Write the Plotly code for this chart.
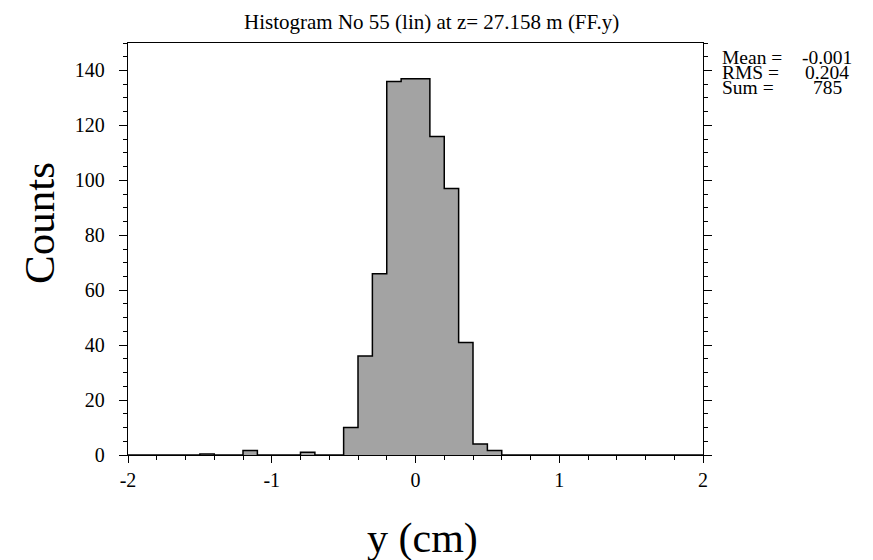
import plotly.graph_objects as go

# Histogram data (bin width 0.1 from -2 to 2)
bin_left = [round(-2.0 + 0.1 * i, 2) for i in range(40)]
counts = [0, 0, 0, 0, 0, 0.4, 0, 0, 1.6, 0,
          0, 0, 1.0, 0, 0, 10, 36, 66, 136, 137,
          137, 116, 97, 41, 4, 1.6, 0, 0, 0, 0,
          0, 0, 0, 0, 0, 0, 0, 0, 0, 0]
bin_width = 0.1

title_text = "Histogram No 55 (lin) at z= 27.158 m (FF.y)"
x_title = "y (cm)"
y_title = "Counts"
stat_labels = ["Mean =", "RMS =", "Sum ="]
stat_values = ["-0.001", "0.204", "785"]

FONT = "Liberation Serif"

xs = bin_left + [bin_left[-1] + bin_width]
ys = counts + [counts[-1]]

# page body has an 8px offset; plot area spans screen x 128..703, y 43..455
PL, PT, PW, PH = 128, 43, 575, 412


def px(sx):
    return (sx - PL) / PW


def py(sy):
    return 1 - (sy - PT) / PH


fig = go.Figure()
fig.add_trace(go.Scatter(
    x=xs, y=ys, mode="lines", line=dict(shape="hv", color="black", width=1.5),
    fill="tozeroy", fillcolor="#a3a3a3", hoverinfo="skip", showlegend=False))

fig.update_layout(
    width=865, height=552,
    margin=dict(l=120, r=170, t=35, b=105, autoexpand=False),
    paper_bgcolor="white", plot_bgcolor="white",
    font=dict(family=FONT, color="black"),
    showlegend=False,
)
fig.update_xaxes(
    range=[-2, 2], tickvals=[-2, -1, 0, 1, 2], ticktext=["-2", "-1", "0", "1", "2"],
    ticks="outside", ticklen=7, tickwidth=1, tickcolor="black",
    minor=dict(dtick=0.2, tick0=0, ticks="outside", ticklen=4, tickcolor="black"),
    showline=True, linecolor="black", linewidth=1, mirror=True,
    showgrid=False, zeroline=False, ticklabelstandoff=0,
    tickfont=dict(size=20, family=FONT),
)
fig.update_yaxes(
    range=[0, 150], tickvals=[0, 20, 40, 60, 80, 100, 120, 140],
    ticks="outside", ticklen=8, tickwidth=1, tickcolor="black",
    minor=dict(dtick=5, tick0=0, ticks="outside", ticklen=4, tickcolor="black"),
    showline=True, linecolor="black", linewidth=1.3, mirror="ticks",
    showgrid=False, zeroline=False, ticklabelstandoff=10,
    tickfont=dict(size=20, family=FONT),
)

fig.add_annotation(text=title_text, xref="paper", yref="paper", x=px(431), y=py(8.5),
                   xanchor="center", yanchor="top", showarrow=False, borderpad=0,
                   font=dict(size=21, family=FONT))
fig.add_annotation(text=x_title, xref="paper", yref="paper", x=px(422), y=py(538),
                   xanchor="center", yanchor="middle", showarrow=False,
                   font=dict(size=42, family=FONT))
fig.add_annotation(text=y_title, xref="paper", yref="paper", x=px(39), y=py(223),
                   xanchor="center", yanchor="middle", showarrow=False, textangle=-90,
                   font=dict(size=43, family=FONT))

line_y = [58, 73, 88]
for lab, val, yy in zip(stat_labels, stat_values, line_y):
    fig.add_annotation(text=lab, xref="paper", yref="paper", x=px(721), y=py(yy),
                       xanchor="left", yanchor="middle", showarrow=False, borderpad=0,
                       font=dict(size=19.5, family=FONT))
    fig.add_annotation(text=val, xref="paper", yref="paper", x=px(827), y=py(yy),
                       xanchor="center", yanchor="middle", showarrow=False, borderpad=0,
                       font=dict(size=19.5, family=FONT))

fig.write_html("out.html")
